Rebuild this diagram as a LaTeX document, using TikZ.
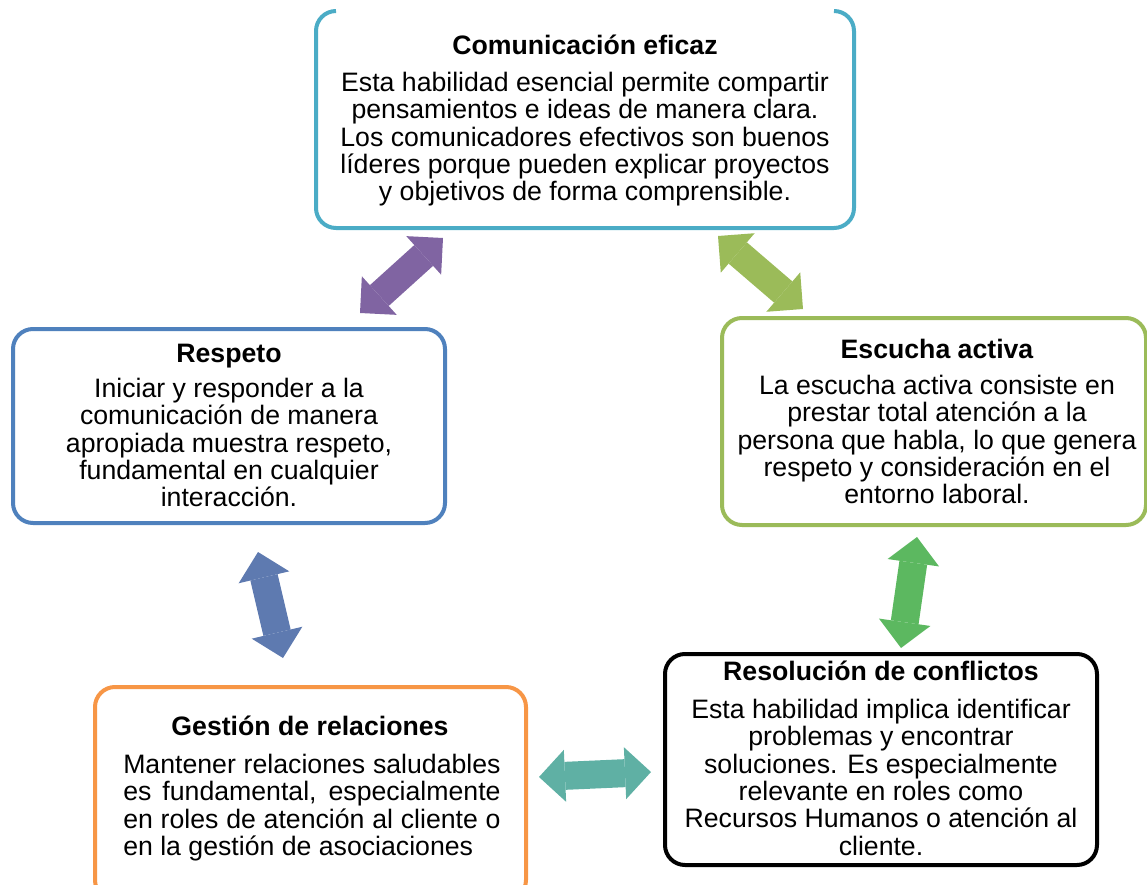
\documentclass[tikz,border=0pt]{standalone}
\usepackage{fontspec}
\setmainfont{Liberation Sans}
\usetikzlibrary{arrows.meta}

\definecolor{cielo}{HTML}{4BACC6}
\definecolor{azul}{HTML}{4F81BD}
\definecolor{oliva}{HTML}{9BBB59}
\definecolor{naranja}{HTML}{F79646}
\definecolor{morado}{HTML}{8064A2}
\definecolor{azulflecha}{HTML}{5E7AB0}
\definecolor{verde}{HTML}{5CB860}
\definecolor{turquesa}{HTML}{5FB0A4}

\tikzset{
  caja/.style={rounded corners=15pt, line width=3pt, fill=white, inner sep=0pt},
  titulo/.style={font=\bfseries\fontsize{20}{20.6}\selectfont, anchor=base, inner sep=0pt},
  texto/.style={font=\fontsize{20}{20.6}\selectfont, align=center, anchor=north, inner sep=0pt},
  punta/.style={Triangle[length=19.5pt, width=39pt, line width=0pt]},
  doble/.style={line width=21pt, {Triangle[length=19.5pt, width=39pt, line width=0pt]}-{Triangle[length=19.5pt, width=39pt, line width=0pt]}}
}

\begin{document}
\begin{tikzpicture}[x=0.75pt,y=-0.75pt]
\useasboundingbox (0,0) rectangle (1147,885);
\clip (0,0) rectangle (1147,885);

% cajas
\node[caja, draw=none, minimum width=400.5pt, minimum height=159.75pt] (com) at (585,119.5) {};
\draw[cielo, line width=3pt, rounded corners=15pt] ([xshift=15pt]com.north west) -- (com.north west) -- (com.south west)
  -- (com.south east) -- (com.north east) -- ([xshift=-15pt]com.north east);
\node[caja, draw=azul, minimum width=324pt, minimum height=145.5pt] (resp) at (229,426) {};
\node[caja, draw=oliva, minimum width=318pt, minimum height=155.25pt] (escu) at (934,421.5) {};
\node[caja, draw=black, minimum width=324pt, minimum height=158.25pt] (reso) at (881,759.5) {};
\node[caja, draw=naranja, minimum width=323.25pt, minimum height=159.75pt] (gest) at (310.5,793.5) {};

% textos
\node[titulo] (com-t) at (585,55) {Comunicación eficaz};
\node[texto] (com-x) at (585,71.5) {Esta habilidad esencial permite compartir\\
  pensamientos e ideas de manera clara.\\ Los comunicadores efectivos son buenos\\
  líderes porque pueden explicar proyectos\\ y objetivos de forma comprensible.};

\node[titulo] (resp-t) at (229,362) {Respeto};
\node[texto] (resp-x) at (229,377.5) {Iniciar y responder a la\\ comunicación de manera\\
  apropiada muestra respeto,\\ fundamental en cualquier\\ interacción.};

\node[titulo] (escu-t) at (937,358) {Escucha activa};
\node[texto] (escu-x) at (937,374.5) {La escucha activa consiste en\\ prestar total atención a la\\
  persona que habla, lo que genera\\ respeto y consideración en el\\ entorno laboral.};

\node[titulo] (reso-t) at (881,680) {Resolución de conflictos};
\node[texto] (reso-x) at (881,698.5) {Esta habilidad implica identificar\\ problemas y encontrar\\
  soluciones. Es especialmente\\ relevante en roles como\\ Recursos Humanos o atención al\\ cliente.};

\node[titulo] (gest-t) at (310,735) {Gestión de relaciones};
\node[texto, align=justify, text width=283pt, anchor=north west] (gest-x) at (123,753.5)
  {Mantener relaciones saludables\linebreak es fundamental, especialmente\linebreak
   en roles de atención al cliente o\linebreak en la gestión de asociaciones};

% flechas dobles
\coordinate (m1) at (360,313); \coordinate (m2) at (443,238);
\coordinate (o1) at (718,236); \coordinate (o2) at (803,309);
\coordinate (a1) at (258,552); \coordinate (a2) at (283,658);
\coordinate (v1) at (917,537); \coordinate (v2) at (901,648);
\coordinate (t1) at (539,777); \coordinate (t2) at (651,772);

\draw[doble, morado] (m1) -- (m2);
\draw[doble, oliva] (o1) -- (o2);
\draw[doble, azulflecha] (a1) -- (a2);
\draw[doble, verde] (v1) -- (v2);
\draw[doble, turquesa] (t1) -- (t2);
\end{tikzpicture}
\end{document}
